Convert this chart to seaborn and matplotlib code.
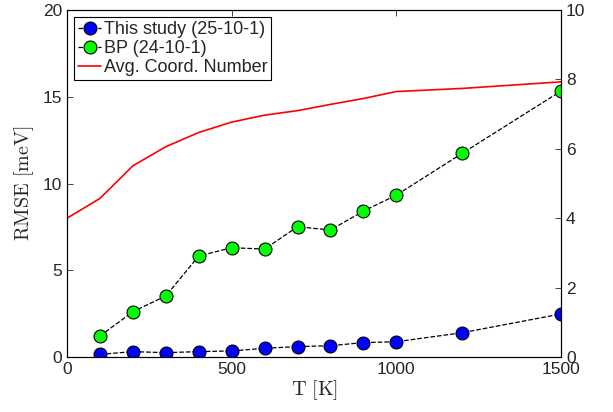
import matplotlib
matplotlib.use('Agg')
import matplotlib.pyplot as plt
import seaborn as sns
import pandas as pd

sns.set_style('white')
plt.rcParams.update({
    'font.family': ['Liberation Sans', 'DejaVu Sans'],
    'font.size': 12.5,
    'mathtext.fontset': 'cm',
    'xtick.direction': 'in',
    'ytick.direction': 'in',
    'axes.edgecolor': 'black',
    'axes.linewidth': 0.8,
})

# data
temps = [100, 200, 300, 400, 500, 600, 700, 800, 900, 1000, 1200, 1500]
rmse_this = [0.15, 0.31, 0.25, 0.31, 0.35, 0.50, 0.60, 0.65, 0.83, 0.88, 1.40, 2.48]
rmse_bp = [1.21, 2.61, 3.52, 5.82, 6.30, 6.22, 7.51, 7.32, 8.41, 9.33, 11.74, 15.33]
coord_T = [0, 100, 200, 300, 400, 500, 600, 700, 800, 900, 1000, 1200, 1500]
coord_n = [4.0, 4.57, 5.51, 6.06, 6.47, 6.77, 6.97, 7.10, 7.28, 7.45, 7.65, 7.74, 7.93]

df = pd.DataFrame({'T': temps, 'this': rmse_this, 'bp': rmse_bp})
dfn = pd.DataFrame({'T': coord_T, 'n': coord_n})

fig = plt.figure(figsize=(6.13, 4.12), dpi=100)
ax = fig.add_axes([0.1093, 0.1335, 0.8059, 0.8422])
ax2 = ax.twinx()

mk = dict(marker='o', markersize=9.3, markeredgecolor='black', markeredgewidth=0.8)
sns.lineplot(data=df, x='T', y='this', ax=ax, color='black', linestyle='--', linewidth=0.9,
             markerfacecolor='#0000ff', label='This study (25-10-1)', **mk)
sns.lineplot(data=df, x='T', y='bp', ax=ax, color='black', linestyle='--', linewidth=0.9,
             markerfacecolor='#00ff00', label='BP (24-10-1)', **mk)
sns.lineplot(data=dfn, x='T', y='n', ax=ax2, color='red', linewidth=1.2,
             label='Avg. Coord. Number')

ax.set_xlim(0, 1500)
ax.set_ylim(0, 20)
ax2.set_ylim(0, 10)
ax.set_xticks([0, 500, 1000, 1500])
ax.set_yticks([0, 5, 10, 15, 20])
ax2.set_yticks([0, 2, 4, 6, 8, 10])
ax.tick_params(top=True, length=4, width=0.6, labelsize=12.5)
ax2.tick_params(length=4, width=0.6, labelsize=12.5)

ax.set_xlabel(r'$\mathrm{T\ [K]}$', fontsize=14.5, labelpad=1)
ax.set_ylabel(r'$\mathrm{RMSE\ [meV]}$', fontsize=14.5, labelpad=5)
ax2.set_ylabel(r'$\mathrm{n}$', fontsize=14.5, labelpad=22)

h1, l1 = ax.get_legend_handles_labels()
h2, l2 = ax2.get_legend_handles_labels()
if ax2.get_legend():
    ax2.get_legend().remove()
leg = ax.legend(h1 + h2, l1 + l2, loc='upper left', fontsize=13, frameon=True, fancybox=False,
                edgecolor='black', framealpha=1, borderpad=0.2, handlelength=1.3,
                handletextpad=0.15, labelspacing=0.12, borderaxespad=0.4)
leg.get_frame().set_linewidth(0.8)

fig.savefig('out.png', dpi=100)
